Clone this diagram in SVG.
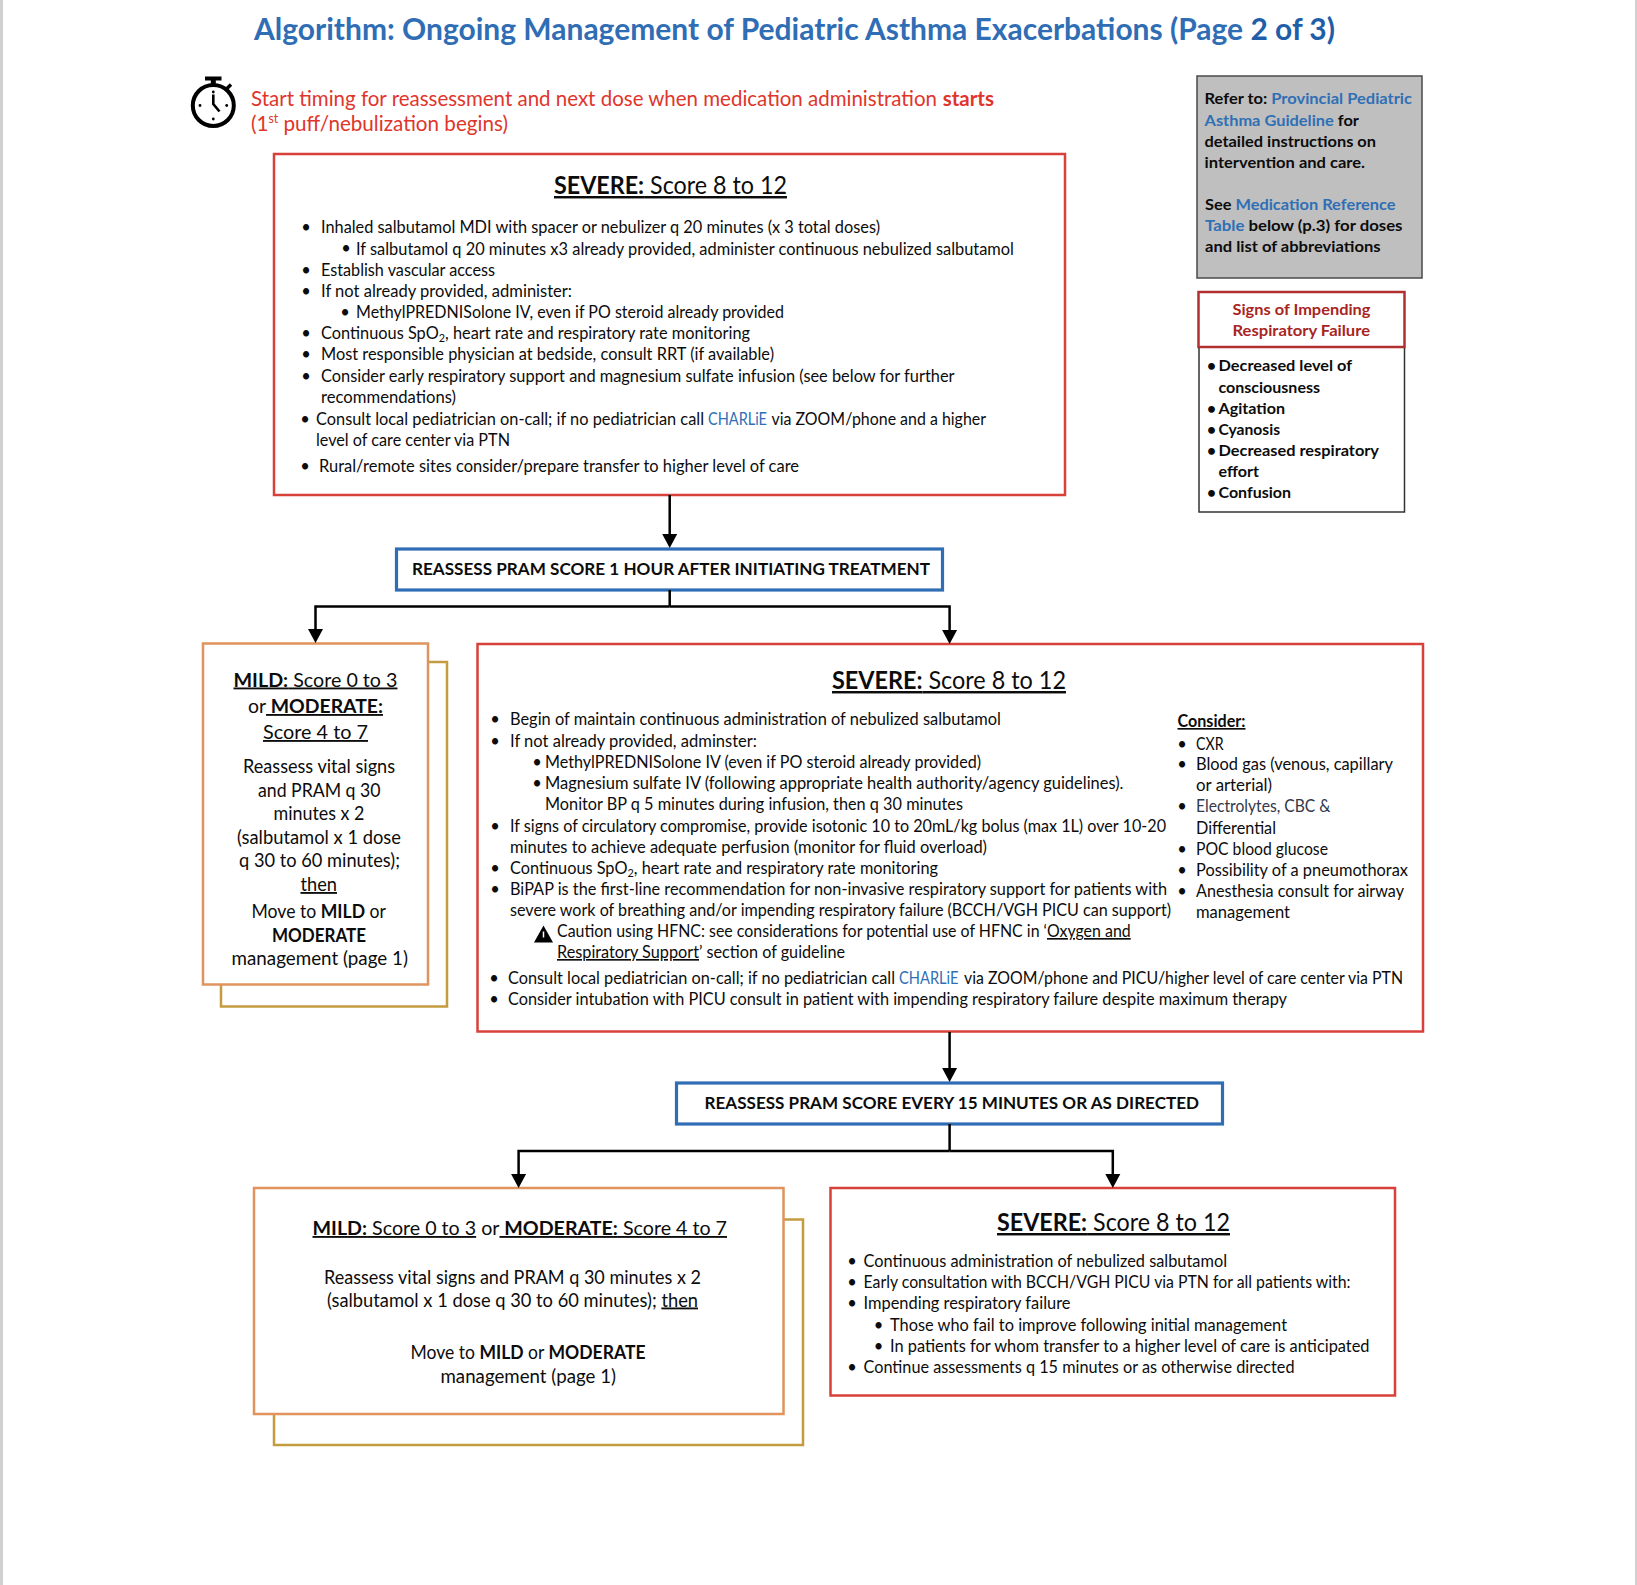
<svg xmlns="http://www.w3.org/2000/svg" width="1637" height="1585" viewBox="0 0 1637 1585">
<style>
text{font-family:Lato,"Liberation Sans",sans-serif;font-size:16.5px;fill:#0c0c0c;white-space:pre}
.h{font-size:24.5px}.m{font-size:18.5px}.bl{font-size:17.5px;font-weight:700}.r{font-size:15.5px;font-weight:700}
.t{font-size:30px;font-weight:700;fill:#2F6DB5}.rd{font-size:21px;fill:#E0352B}
.b{font-weight:700}.u{text-decoration:underline}.lk{fill:#2F6FB5}.sg{fill:#A8251F;font-size:15.5px;font-weight:700}
.sub{font-size:11px}.dot{text-anchor:middle}
rect{fill:#fff}
.red{stroke:#D8403A;stroke-width:2.5}.ora{stroke:#E0935C;stroke-width:2.5}.gold{stroke:#C49C40;stroke-width:2.5}.blu{fill:#fff;stroke:#2F6DB5;stroke-width:3.2}
.con{fill:none;stroke:#000;stroke-width:2.5}
</style>
<defs>
<marker id="ah" markerUnits="userSpaceOnUse" markerWidth="15" markerHeight="16" refX="4" refY="8" orient="auto"><path d="M0 .5L14 8L0 15.5Z" fill="#000"/></marker>
</defs>
<rect x="0" y="0" width="3" height="1585" style="fill:#d0d0d0"/>
<rect x="1635" y="0" width="2" height="1585" style="fill:#d0d0d0"/>

<g id="title"><text class="t" x="254" y="40" textLength="1081" lengthAdjust="spacingAndGlyphs">Algorithm: Ongoing Management of Pediatric Asthma Exacerbations (Page <tspan style="fill:#1F5FAA">2 of 3)</tspan></text></g>

<g id="timer">
<g fill="none" stroke="#000"><circle cx="213.3" cy="105.5" r="20.5" stroke-width="4"/><path d="M213.3 80V85" stroke-width="5"/><path d="M227 88.5L231 84.5" stroke-width="3.4"/><path d="M213.3 94.5V104L219.5 111.5" stroke-width="2.6"/></g>
<rect x="205" y="76.5" width="16.5" height="4" style="fill:#000"/>
<g fill="#000"><circle cx="213.3" cy="92" r="1.4"/><circle cx="213.3" cy="119" r="1.4"/><circle cx="200" cy="105.5" r="1.4"/><circle cx="226.7" cy="105.5" r="1.4"/></g>
<text class="rd" x="251" y="105.5" textLength="686" lengthAdjust="spacingAndGlyphs">Start timing for reassessment and next dose when medication administration</text>
<text class="rd b" x="942.7" y="105.5" textLength="51.3" lengthAdjust="spacingAndGlyphs">starts</text>
<text class="rd" x="251" y="131" textLength="257" lengthAdjust="spacingAndGlyphs">(1<tspan style="font-size:12.5px" dy="-8">st</tspan><tspan dy="8"> puff/nebulization begins)</tspan></text>
</g>

<g id="severe-1">
<rect class="red" x="274" y="154" width="791" height="341"/>
<text class="h" x="554" y="194" textLength="233" lengthAdjust="spacingAndGlyphs"><tspan class="b u">SEVERE:</tspan><tspan class="u"> Score 8 to 12</tspan></text>
<g transform="translate(0 .5)">
<text class="dot" x="306" y="232">•</text><text x="321" y="232" textLength="559" lengthAdjust="spacingAndGlyphs">Inhaled salbutamol MDI with spacer or nebulizer q 20 minutes (x 3 total doses)</text>
<text class="dot" x="346" y="253">•</text><text x="356" y="254" textLength="658" lengthAdjust="spacingAndGlyphs">If salbutamol q 20 minutes x3 already provided, administer continuous nebulized salbutamol</text>
<text class="dot" x="306" y="275">•</text><text x="321" y="275" textLength="174" lengthAdjust="spacingAndGlyphs">Establish vascular access</text>
<text class="dot" x="306" y="296">•</text><text x="321" y="296" textLength="251" lengthAdjust="spacingAndGlyphs">If not already provided, administer:</text>
<text class="dot" x="345" y="317">•</text><text x="356" y="317.5" textLength="428" lengthAdjust="spacingAndGlyphs">MethylPREDNISolone IV, even if PO steroid already provided</text>
<text class="dot" x="306" y="338">•</text><text x="321" y="338.5" textLength="429" lengthAdjust="spacingAndGlyphs">Continuous SpO<tspan class="sub" dy="3">2</tspan><tspan dy="-3">, heart rate and respiratory rate monitoring</tspan></text>
<text class="dot" x="306" y="359">•</text><text x="321" y="359.5" textLength="453" lengthAdjust="spacingAndGlyphs">Most responsible physician at bedside, consult RRT (if available)</text>
<text class="dot" x="306" y="381">•</text><text x="321" y="381" textLength="633.5" lengthAdjust="spacingAndGlyphs">Consider early respiratory support and magnesium sulfate infusion (see below for further</text>
<text x="321" y="402" textLength="135" lengthAdjust="spacingAndGlyphs">recommendations)</text>
<text class="dot" x="305" y="424">•</text><text x="316" y="424" textLength="388" lengthAdjust="spacingAndGlyphs">Consult local pediatrician on-call; if no pediatrician call</text>
<text class="lk" x="708" y="424" textLength="59" lengthAdjust="spacingAndGlyphs">CHARLiE</text>
<text x="771.5" y="424" textLength="214.5" lengthAdjust="spacingAndGlyphs">via ZOOM/phone and a higher</text>
<text x="316" y="445" textLength="194" lengthAdjust="spacingAndGlyphs">level of care center via PTN</text>
<text class="dot" x="305" y="471">•</text><text x="319" y="471" textLength="480" lengthAdjust="spacingAndGlyphs">Rural/remote sites consider/prepare transfer to higher level of care</text>
</g>
</g>

<g id="refer">
<rect x="1197" y="76" width="225" height="202" style="fill:#BFBFBF;stroke:#4a4a4a;stroke-width:1.5"/>
<text class="r" x="1204.5" y="104" textLength="207.5" lengthAdjust="spacingAndGlyphs">Refer to: <tspan class="lk">Provincial Pediatric</tspan></text>
<text class="r" x="1204.5" y="125.5" textLength="154.5" lengthAdjust="spacingAndGlyphs"><tspan class="lk">Asthma Guideline</tspan> for</text>
<text class="r" x="1204.5" y="146.5" textLength="171.5" lengthAdjust="spacingAndGlyphs">detailed instructions on</text>
<text class="r" x="1204.5" y="167.5" textLength="160.5" lengthAdjust="spacingAndGlyphs">intervention and care.</text>
<text class="r" x="1205" y="210" textLength="190.5" lengthAdjust="spacingAndGlyphs">See <tspan class="lk">Medication Reference</tspan></text>
<text class="r" x="1205" y="231" textLength="197.5" lengthAdjust="spacingAndGlyphs"><tspan class="lk">Table</tspan> below (p.3) for doses</text>
<text class="r" x="1205" y="252" textLength="175.5" lengthAdjust="spacingAndGlyphs">and list of abbreviations</text>
</g>

<g id="signs-header">
<rect x="1198.5" y="292" width="206" height="55" style="stroke:#B03030;stroke-width:2.5"/>
<text class="sg" x="1232.5" y="315" textLength="138" lengthAdjust="spacingAndGlyphs">Signs of Impending</text>
<text class="sg" x="1232.5" y="336" textLength="137.5" lengthAdjust="spacingAndGlyphs">Respiratory Failure</text>
</g>
<g id="signs-list">
<path d="M1199 348V512H1404.5V348" fill="none" stroke="#333" stroke-width="1.5"/>
<text class="r dot" x="1211.5" y="371">•</text><text class="r" x="1218.5" y="371" textLength="133.5" lengthAdjust="spacingAndGlyphs">Decreased level of</text>
<text class="r" x="1218.5" y="392.5" textLength="101.5" lengthAdjust="spacingAndGlyphs">consciousness</text>
<text class="r dot" x="1211.5" y="413.5">•</text><text class="r" x="1218.5" y="413.5" textLength="66.5" lengthAdjust="spacingAndGlyphs">Agitation</text>
<text class="r dot" x="1211.5" y="434.5">•</text><text class="r" x="1218.5" y="434.5" textLength="61.5" lengthAdjust="spacingAndGlyphs">Cyanosis</text>
<text class="r dot" x="1211.5" y="455.5">•</text><text class="r" x="1218.5" y="455.5" textLength="160.5" lengthAdjust="spacingAndGlyphs">Decreased respiratory</text>
<text class="r" x="1218.5" y="476.5" textLength="40.5" lengthAdjust="spacingAndGlyphs">effort</text>
<text class="r dot" x="1211.5" y="498">•</text><text class="r" x="1218.5" y="498" textLength="72.5" lengthAdjust="spacingAndGlyphs">Confusion</text>
</g>

<g id="reassess-1">
<rect class="blu" x="396.5" y="549" width="546" height="41"/>
<text class="bl" x="412" y="575" textLength="518" lengthAdjust="spacingAndGlyphs">REASSESS PRAM SCORE 1 HOUR AFTER INITIATING TREATMENT</text>
</g>

<g id="mild-1">
<path class="gold" d="M428 662H447V1006.5H221V985" fill="none"/>
<rect class="ora" x="203" y="643.5" width="225" height="341"/>
<text class="m" x="233.5" y="686.5" textLength="164" lengthAdjust="spacingAndGlyphs"><tspan class="b u">MILD:</tspan><tspan class="u"> Score 0 to 3</tspan></text>
<text class="m" x="248" y="713" textLength="135" lengthAdjust="spacingAndGlyphs">or<tspan class="b u"> MODERATE:</tspan></text>
<text class="m u" x="263" y="739" textLength="105" lengthAdjust="spacingAndGlyphs">Score 4 to 7</text>
<text class="m" x="243" y="773" textLength="152" lengthAdjust="spacingAndGlyphs">Reassess vital signs</text>
<text class="m" x="258" y="796.5" textLength="122.5" lengthAdjust="spacingAndGlyphs">and PRAM q 30</text>
<text class="m" x="273.5" y="820" textLength="91" lengthAdjust="spacingAndGlyphs">minutes x 2</text>
<text class="m" x="237" y="844" textLength="164" lengthAdjust="spacingAndGlyphs">(salbutamol x 1 dose</text>
<text class="m" x="239" y="867" textLength="161" lengthAdjust="spacingAndGlyphs">q 30 to 60 minutes);</text>
<text class="m u" x="300.5" y="891" textLength="36.5" lengthAdjust="spacingAndGlyphs">then</text>
<text class="m" x="251.5" y="918" textLength="134.5" lengthAdjust="spacingAndGlyphs">Move to <tspan class="b">MILD</tspan> or</text>
<text class="m b" x="272" y="942" textLength="94" lengthAdjust="spacingAndGlyphs">MODERATE</text>
<text class="m" x="231.5" y="965" textLength="176.5" lengthAdjust="spacingAndGlyphs">management (page 1)</text>
</g>

<g id="severe-2">
<rect class="red" x="477.5" y="644" width="945.5" height="387.5"/>
<text class="h" x="832" y="689" textLength="234" lengthAdjust="spacingAndGlyphs"><tspan class="b u">SEVERE:</tspan><tspan class="u"> Score 8 to 12</tspan></text>
<g transform="translate(0 .5)">
<text class="dot" x="495" y="724.5">•</text><text x="510" y="724.5" textLength="491" lengthAdjust="spacingAndGlyphs">Begin of maintain continuous administration of nebulized salbutamol</text>
<text class="dot" x="495" y="746.5">•</text><text x="510" y="746.5" textLength="247" lengthAdjust="spacingAndGlyphs">If not already provided, adminster:</text>
<text class="dot" x="537" y="767.5">•</text><text x="545" y="767.5" textLength="436" lengthAdjust="spacingAndGlyphs">MethylPREDNISolone IV (even if PO steroid already provided)</text>
<text class="dot" x="537" y="788.5">•</text><text x="545" y="788.5" textLength="578.5" lengthAdjust="spacingAndGlyphs">Magnesium sulfate IV (following appropriate health authority/agency guidelines).</text>
<text x="545" y="809.5" textLength="418" lengthAdjust="spacingAndGlyphs">Monitor BP q 5 minutes during infusion, then q 30 minutes</text>
<text class="dot" x="495" y="831.5">•</text><text x="510" y="831.5" textLength="656" lengthAdjust="spacingAndGlyphs">If signs of circulatory compromise, provide isotonic 10 to 20mL/kg bolus (max 1L) over 10-20</text>
<text x="510" y="852.5" textLength="477" lengthAdjust="spacingAndGlyphs">minutes to achieve adequate perfusion (monitor for fluid overload)</text>
<text class="dot" x="495" y="873.5">•</text><text x="510" y="873.5" textLength="428" lengthAdjust="spacingAndGlyphs">Continuous SpO<tspan class="sub" dy="3">2</tspan><tspan dy="-3">, heart rate and respiratory rate monitoring</tspan></text>
<text class="dot" x="495" y="894.5">•</text><text x="510" y="894.5" textLength="657" lengthAdjust="spacingAndGlyphs">BiPAP is the first-line recommendation for non-invasive respiratory support for patients with</text>
<text x="510" y="915.5" textLength="661" lengthAdjust="spacingAndGlyphs">severe work of breathing and/or impending respiratory failure (BCCH/VGH PICU can support)</text>
<path d="M543.5 925L553 942H534Z" fill="#000"/><path d="M543.5 931V937" stroke="#fff" stroke-width="1.5"/>
<text x="557" y="936.5" textLength="490" lengthAdjust="spacingAndGlyphs">Caution using HFNC: see considerations for potential use of HFNC in ‘</text>
<text class="u" x="1047" y="936.5" textLength="83.7" lengthAdjust="spacingAndGlyphs">Oxygen and</text>
<text class="u" x="557" y="957.5" textLength="142" lengthAdjust="spacingAndGlyphs">Respiratory Support</text>
<text x="699" y="957.5" textLength="146" lengthAdjust="spacingAndGlyphs">’ section of guideline</text>
<text class="dot" x="494" y="983">•</text><text x="508" y="983" textLength="387" lengthAdjust="spacingAndGlyphs">Consult local pediatrician on-call; if no pediatrician call</text>
<text class="lk" x="899" y="983" textLength="59.5" lengthAdjust="spacingAndGlyphs">CHARLiE</text>
<text x="964" y="983" textLength="439" lengthAdjust="spacingAndGlyphs">via ZOOM/phone and PICU/higher level of care center via PTN</text>
<text class="dot" x="494" y="1004.5">•</text><text x="508" y="1004.5" textLength="779" lengthAdjust="spacingAndGlyphs">Consider intubation with PICU consult in patient with impending respiratory failure despite maximum therapy</text>
<text class="b u" x="1177.5" y="726.5" textLength="68" lengthAdjust="spacingAndGlyphs">Consider:</text>
<text class="dot" x="1182" y="749">•</text><text x="1196" y="749" textLength="27.5" lengthAdjust="spacingAndGlyphs">CXR</text>
<text class="dot" x="1182" y="769.5">•</text><text x="1196" y="769.5" textLength="197" lengthAdjust="spacingAndGlyphs">Blood gas (venous, capillary</text>
<text x="1196" y="790.5" textLength="76" lengthAdjust="spacingAndGlyphs">or arterial)</text>
<text class="dot" x="1182" y="811.5">•</text><text x="1196" y="811.5" textLength="134.5" lengthAdjust="spacingAndGlyphs" style="fill:#33384a">Electrolytes, CBC &amp;</text>
<text x="1196" y="833" textLength="80" lengthAdjust="spacingAndGlyphs">Differential</text>
<text class="dot" x="1182" y="854.5">•</text><text x="1196" y="854.5" textLength="132" lengthAdjust="spacingAndGlyphs">POC blood glucose</text>
<text class="dot" x="1182" y="875.5">•</text><text x="1196" y="875.5" textLength="212" lengthAdjust="spacingAndGlyphs">Possibility of a pneumothorax</text>
<text class="dot" x="1182" y="896.5">•</text><text x="1196" y="896.5" textLength="208" lengthAdjust="spacingAndGlyphs">Anesthesia consult for airway</text>
<text x="1196" y="917.5" textLength="94" lengthAdjust="spacingAndGlyphs">management</text>
</g>
</g>

<g id="reassess-2">
<rect class="blu" x="676.5" y="1083" width="546" height="41"/>
<text class="bl" x="704.5" y="1109" textLength="494.5" lengthAdjust="spacingAndGlyphs">REASSESS PRAM SCORE EVERY 15 MINUTES OR AS DIRECTED</text>
</g>

<g id="mild-2">
<path class="gold" d="M783 1219.5H803V1445H274V1414" fill="none"/>
<rect class="ora" x="254" y="1188" width="529.5" height="226"/>
<text class="m" x="312.5" y="1235" textLength="414.5" lengthAdjust="spacingAndGlyphs"><tspan class="b u">MILD:</tspan><tspan class="u"> Score 0 to 3</tspan> or<tspan class="b u"> MODERATE:</tspan><tspan class="u"> Score 4 to 7</tspan></text>
<text class="m" x="324" y="1284" textLength="377" lengthAdjust="spacingAndGlyphs">Reassess vital signs and PRAM q 30 minutes x 2</text>
<text class="m" x="327" y="1306.5" textLength="371" lengthAdjust="spacingAndGlyphs">(salbutamol x 1 dose q 30 to 60 minutes); <tspan class="u">then</tspan></text>
<text class="m" x="410.5" y="1359" textLength="235" lengthAdjust="spacingAndGlyphs">Move to <tspan class="b">MILD</tspan> or <tspan class="b">MODERATE</tspan></text>
<text class="m" x="440.5" y="1383" textLength="175.5" lengthAdjust="spacingAndGlyphs">management (page 1)</text>
</g>

<g id="severe-3">
<rect class="red" x="830.5" y="1188" width="564.5" height="207.5"/>
<text class="h" x="997" y="1231" textLength="233" lengthAdjust="spacingAndGlyphs"><tspan class="b u">SEVERE:</tspan><tspan class="u"> Score 8 to 12</tspan></text>
<g transform="translate(0 .5)">
<text class="dot" x="852" y="1266.5">•</text><text x="863.5" y="1266.5" textLength="363.5" lengthAdjust="spacingAndGlyphs">Continuous administration of nebulized salbutamol</text>
<text class="dot" x="852" y="1287.5">•</text><text x="863.5" y="1287.5" textLength="487" lengthAdjust="spacingAndGlyphs">Early consultation with BCCH/VGH PICU via PTN for all patients with:</text>
<text class="dot" x="852" y="1308.5">•</text><text x="863.5" y="1308.5" textLength="207" lengthAdjust="spacingAndGlyphs">Impending respiratory failure</text>
<text class="dot" x="878.5" y="1330.5">•</text><text x="890" y="1330.5" textLength="397" lengthAdjust="spacingAndGlyphs">Those who fail to improve following initial management</text>
<text class="dot" x="878.5" y="1351.5">•</text><text x="890" y="1351.5" textLength="479.5" lengthAdjust="spacingAndGlyphs">In patients for whom transfer to a higher level of care is anticipated</text>
<text class="dot" x="852" y="1372.5">•</text><text x="863.5" y="1372.5" textLength="431" lengthAdjust="spacingAndGlyphs">Continue assessments q 15 minutes or as otherwise directed</text>
</g>
</g>

<g id="connectors" class="con">
<path marker-end="url(#ah)" d="M669.7 495V538"/>
<path d="M669.7 590V606.5"/>
<path marker-end="url(#ah)" d="M669.7 606.5H315.5V633"/>
<path marker-end="url(#ah)" d="M669.7 606.5H949.6V634"/>
<path marker-end="url(#ah)" d="M949.6 1032V1072"/>
<path d="M949.6 1124V1151"/>
<path marker-end="url(#ah)" d="M949.6 1151H518.6V1178"/>
<path marker-end="url(#ah)" d="M949.6 1151H1112.8V1178"/>
</g>
</svg>
